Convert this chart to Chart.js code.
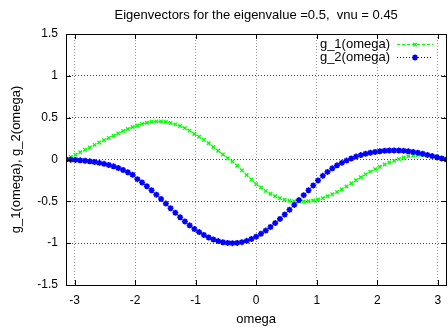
<!DOCTYPE html>
<html>
<head>
<meta charset="utf-8">
<script src="https://cdn.jsdelivr.net/npm/chart.js@4"></script>
<style>
  html, body { margin: 0; padding: 0; background: #fff; overflow: hidden; }
  #wrap { width: 448px; height: 332px; overflow: hidden; }
</style>
</head>
<body>
<div id="wrap"><canvas id="eigChart" width="452" height="332"></canvas></div>
<script>
// omega samples, -pi .. pi
const omega = [
  -3.142, -3.063, -2.985, -2.906, -2.827, -2.749, -2.670, -2.592, -2.513, -2.435,
  -2.356, -2.278, -2.199, -2.121, -2.042, -1.963, -1.885, -1.806, -1.728, -1.649,
  -1.571, -1.492, -1.414, -1.335, -1.257, -1.178, -1.100, -1.021, -0.942, -0.864,
  -0.785, -0.707, -0.628, -0.550, -0.471, -0.393, -0.314, -0.236, -0.157, -0.079,
  0.000, 0.079, 0.157, 0.236, 0.314, 0.393, 0.471, 0.550, 0.628, 0.707,
  0.785, 0.864, 0.942, 1.021, 1.100, 1.178, 1.257, 1.335, 1.414, 1.492,
  1.571, 1.649, 1.728, 1.806, 1.885, 1.963, 2.042, 2.121, 2.199, 2.278,
  2.356, 2.435, 2.513, 2.592, 2.670, 2.749, 2.827, 2.906, 2.985, 3.063,
  3.142
];

const g1 = [
  0.000, 0.030, 0.058, 0.087, 0.116, 0.145, 0.175, 0.203, 0.230, 0.258,
  0.285, 0.312, 0.340, 0.365, 0.388, 0.408, 0.426, 0.440, 0.450, 0.455,
  0.455, 0.448, 0.436, 0.420, 0.400, 0.375, 0.345, 0.305, 0.272, 0.235,
  0.195, 0.150, 0.105, 0.060, 0.015, -0.025, -0.075, -0.130, -0.185, -0.240,
  -0.295, -0.335, -0.375, -0.410, -0.440, -0.462, -0.480, -0.492, -0.499, -0.502,
  -0.502, -0.498, -0.490, -0.478, -0.462, -0.440, -0.415, -0.388, -0.356, -0.322,
  -0.285, -0.248, -0.212, -0.178, -0.145, -0.115, -0.086, -0.060, -0.036, -0.015,
  0.005, 0.025, 0.040, 0.048, 0.053, 0.054, 0.052, 0.046, 0.035, 0.019,
  0.000
];

const g2 = [
  0.000, -0.002, -0.005, -0.010, -0.015, -0.022, -0.030, -0.040, -0.052, -0.066,
  -0.082, -0.102, -0.125, -0.152, -0.182, -0.235, -0.275, -0.320, -0.368, -0.420,
  -0.472, -0.527, -0.582, -0.636, -0.690, -0.740, -0.787, -0.830, -0.868, -0.902,
  -0.932, -0.956, -0.975, -0.989, -0.997, -1.000, -0.997, -0.988, -0.972, -0.950,
  -0.922, -0.888, -0.850, -0.807, -0.760, -0.710, -0.657, -0.601, -0.543, -0.485,
  -0.426, -0.367, -0.310, -0.250, -0.195, -0.148, -0.106, -0.070, -0.040, -0.013,
  0.013, 0.035, 0.053, 0.068, 0.081, 0.091, 0.099, 0.105, 0.108, 0.109,
  0.108, 0.104, 0.098, 0.090, 0.080, 0.068, 0.055, 0.041, 0.027, 0.013,
  0.000
];

const xTicks = [-3, -2, -1, 0, 1, 2, 3];
const yTicks = [-1.5, -1, -0.5, 0, 0.5, 1, 1.5];

const seriesNames = ['g_1(omega)', 'g_2(omega)'];
const titleText = 'Eigenvectors for the eigenvalue =0.5,  vnu = 0.45';
const xLabel = 'omega';
const yLabel = 'g_1(omega), g_2(omega)';

const FAMILY = '"Liberation Sans", Arial, sans-serif';
const FONT = '13px ' + FAMILY;

function toPoints(ys) {
    return omega.map((x, i) => ({ x: x, y: ys[i] }));
}

// gnuplot look: frame, inward ticks, title, axis labels, key
const gnuplotDecor = {
    id: 'gnuplotDecor',
    afterDraw(chart) {
        const ctx = chart.ctx;
        const a = chart.chartArea;
        const xs = chart.scales.x;
        const ys = chart.scales.y;
        ctx.save();

        // frame
        ctx.strokeStyle = '#000';
        ctx.lineWidth = 1;
        ctx.strokeRect(Math.round(a.left) + 0.5, Math.round(a.top) + 0.5,
            Math.round(a.right - a.left), Math.round(a.bottom - a.top));

        // inward tick marks
        ctx.beginPath();
        xTicks.forEach(v => {
            const px = Math.round(xs.getPixelForValue(v)) + 0.5;
            ctx.moveTo(px, a.bottom); ctx.lineTo(px, a.bottom - 5);
            ctx.moveTo(px, a.top); ctx.lineTo(px, a.top + 5);
        });
        yTicks.forEach(v => {
            const py = Math.round(ys.getPixelForValue(v)) + 0.5;
            ctx.moveTo(a.left, py); ctx.lineTo(a.left + 5, py);
            ctx.moveTo(a.right, py); ctx.lineTo(a.right - 5, py);
        });
        ctx.stroke();

        ctx.fillStyle = '#000';
        ctx.font = FONT;
        ctx.textAlign = 'center';
        ctx.textBaseline = 'middle';
        const cx = (a.left + a.right) / 2;
        ctx.fillText(titleText, cx, 15);
        ctx.fillText(xLabel, cx, 319);

        ctx.save();
        ctx.translate(16, (a.top + a.bottom) / 2);
        ctx.rotate(-Math.PI / 2);
        ctx.fillText(yLabel, 0, 0);
        ctx.restore();

        // key
        const ds = chart.data.datasets;
        const rows = [44, 57];
        ds.forEach((d, i) => {
            const y = rows[i];
            ctx.textAlign = 'right';
            ctx.fillStyle = '#000';
            ctx.fillText(seriesNames[i], 390, y);
            ctx.beginPath();
            ctx.strokeStyle = d.borderColor;
            ctx.lineWidth = 1;
            ctx.setLineDash(d.borderDash);
            ctx.moveTo(397, y + 0.5);
            ctx.lineTo(433, y + 0.5);
            ctx.stroke();
            ctx.setLineDash([]);
            ctx.strokeStyle = d.borderColor;
            ctx.fillStyle = d.borderColor;
            ctx.lineWidth = d.pointBorderWidth;
            Chart.helpers.drawPoint(ctx, {
                pointStyle: d.pointStyle,
                radius: d.pointRadius,
                borderWidth: d.pointBorderWidth,
                rotation: 0
            }, 415, y + 0.5);
        });

        ctx.restore();
    }
};

const ctx = document.getElementById('eigChart').getContext('2d');

new Chart(ctx, {
    type: 'scatter',
    data: {
        datasets: [
            {
                label: seriesNames[0],
                data: toPoints(g1),
                showLine: true,
                borderColor: '#00ff00',
                backgroundColor: '#00ff00',
                borderWidth: 1,
                borderDash: [3, 2],
                pointStyle: 'crossRot',
                pointRadius: 2.5,
                pointBorderWidth: 1.3,
                pointBorderColor: '#00ff00',
                order: 1
            },
            {
                label: seriesNames[1],
                data: toPoints(g2),
                showLine: true,
                borderColor: '#0000ff',
                backgroundColor: '#0000ff',
                borderWidth: 1,
                borderDash: [1, 2],
                pointStyle: 'star',
                pointRadius: 3,
                pointBorderWidth: 1.6,
                pointBorderColor: '#0000ff',
                order: 0
            }
        ]
    },
    options: {
        responsive: false,
        animation: false,
        events: [],
        layout: {
            padding: { top: 34, right: 2, left: 0, bottom: 0 }
        },
        plugins: {
            legend: { display: false },
            title: { display: false },
            tooltip: { enabled: false }
        },
        scales: {
            x: {
                type: 'linear',
                min: -Math.PI,
                max: Math.PI,
                afterBuildTicks: axis => { axis.ticks = xTicks.map(v => ({ value: v })); },
                afterFit: axis => { axis.height = 47; },
                border: { display: false, dash: [1, 2] },
                grid: {
                    color: '#999',
                    lineWidth: 1,
                    drawTicks: false
                },
                ticks: {
                    color: '#000',
                    font: { family: FAMILY, size: 12 },
                    padding: 8,
                    maxRotation: 0,
                    callback: v => String(v)
                }
            },
            y: {
                type: 'linear',
                min: -1.5,
                max: 1.5,
                afterBuildTicks: axis => { axis.ticks = yTicks.map(v => ({ value: v })); },
                afterFit: axis => { axis.width = 66; },
                border: { display: false, dash: [1, 2] },
                grid: {
                    color: '#444',
                    lineWidth: 1,
                    drawTicks: false
                },
                ticks: {
                    color: '#000',
                    font: { family: FAMILY, size: 12 },
                    padding: 8,
                    callback: v => String(v)
                }
            }
        }
    },
    plugins: [gnuplotDecor]
});
</script>
</body>
</html>
